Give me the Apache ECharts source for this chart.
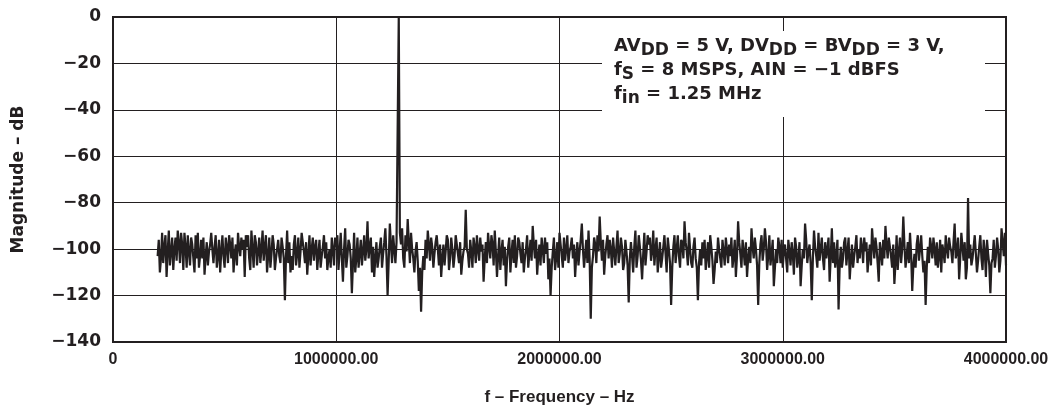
<!DOCTYPE html>
<html>
<head>
<meta charset="utf-8">
<script src="https://cdn.jsdelivr.net/npm/echarts@6/dist/echarts.min.js"></script>
<style>
  html, body { margin: 0; padding: 0; background: #fff; }
  #chart { width: 1062px; height: 415px; }
</style>
</head>
<body>
<div id="chart"></div>
<script>
// FFT bins: first bin and bin spacing (Hz)
var binStart = 200000;
var binStep = 5000;

// magnitude per bin, dB (5 kHz steps from 0.2 MHz to 4 MHz, 200 kHz per row)
var magA = [-103,-96,-110,-104,-93,-106,-99,-94,-112,-101,-92,-107,-101,-95,-109,-100,-95,-105,-92,-97,-106,-93,-98,-109,-93,-99,-108,-94,-101,-107,-95,-98,-104,-110,-94,-104,-93,-108,-103,-96];
var magB = [-104,-95,-111,-103,-97,-107,-101,-98,-93,-100,-106,-99,-94,-108,-103,-96,-110,-101,-94,-103,-108,-95,-99,-106,-94,-98,-104,-95,-110,-102,-98,-107,-93,-99,-103,-95,-100,-96,-112,-94];
var magC = [-99,-94,-104,-109,-92,-100,-108,-94,-97,-107,-101,-95,-106,-100,-92,-105,-99,-94,-110,-103,-95,-108,-102,-94,-98,-109,-104,-100,-96,-103,-106,-95,-99,-104,-122,-103,-92,-106,-97,-110];
var magD = [-103,-109,-98,-94,-107,-102,-95,-108,-101,-93,-97,-101,-106,-97,-111,-103,-94,-107,-100,-95,-105,-99,-96,-109,-102,-96,-108,-103,-99,-94,-104,-97,-109,-104,-100,-108,-95,-100,-107,-95];
var magE = [-99,-94,-109,-101,-93,-104,-114,-100,-91,-108,-103,-96,-98,-104,-119,-106,-93,-110,-104,-95,-108,-102,-96,-107,-101,-94,-105,-100,-88,-104,-99,-95,-110,-99,-112,-104,-97,-108,-104,-99];
var magF = [-95,-108,-102,-97,-91,-103,-120,-105,-89,-98,-106,-94,-100,-106,-97,-97,0,-93,-98,-91,-104,-108,-94,-101,-87,-97,-106,-93,-100,-104,-110,-101,-97,-105,-118,-108,-127,-110,-103,-109];
var magG = [-96,-104,-92,-98,-105,-95,-99,-108,-102,-97,-94,-100,-107,-98,-112,-104,-98,-107,-101,-94,-96,-109,-104,-95,-100,-108,-103,-94,-98,-102,-106,-97,-111,-105,-101,-99,-83,-100,-102,-108];
var magH = [-96,-101,-108,-95,-99,-106,-94,-100,-105,-95,-101,-98,-114,-104,-97,-106,-93,-99,-104,-94,-98,-107,-92,-101,-112,-103,-95,-109,-101,-96,-107,-99,-116,-105,-99,-95,-110,-102,-96,-106];
var magI = [-94,-108,-103,-95,-97,-102,-106,-97,-110,-104,-100,-94,-108,-102,-96,-105,-90,-98,-104,-96,-111,-103,-98,-107,-95,-100,-106,-95,-102,-97,-113,-104,-120,-108,-101,-95,-109,-104,-97,-108];
var magJ = [-93,-98,-103,-108,-95,-105,-100,-94,-106,-101,-99,-95,-104,-98,-112,-103,-97,-107,-101,-96,-89,-100,-108,-102,-96,-106,-92,-104,-130,-108,-103,-95,-98,-106,-94,-101,-86,-97,-105,-96];
var magK = [-111,-103,-98,-94,-104,-96,-100,-108,-95,-101,-107,-99,-92,-106,-102,-95,-99,-109,-106,-96,-101,-107,-123,-104,-97,-103,-110,-99,-92,-108,-103,-94,-99,-105,-113,-102,-93,-107,-101,-94];
var magL = [-98,-95,-105,-101,-92,-107,-100,-95,-110,-103,-97,-108,-104,-99,-94,-102,-110,-95,-100,-106,-124,-108,-99,-94,-106,-100,-94,-103,-108,-96,-97,-104,-88,-97,-101,-107,-93,-100,-106,-108];
var magM = [-99,-95,-104,-108,-122,-106,-100,-107,-97,-104,-96,-109,-103,-97,-108,-94,-99,-105,-115,-109,-101,-106,-95,-100,-104,-108,-96,-101,-107,-95,-100,-106,-98,-103,-95,-108,-103,-96,-112,-103];
var magN = [-88,-97,-102,-108,-96,-101,-107,-97,-112,-104,-99,-106,-91,-99,-104,-95,-100,-107,-124,-106,-98,-94,-105,-100,-91,-97,-109,-103,-94,-107,-102,-96,-116,-108,-100,-106,-95,-99,-106,-96];
var magO = [-108,-101,-98,-104,-110,-96,-101,-107,-97,-102,-111,-95,-99,-108,-104,-97,-116,-107,-100,-104,-89,-96,-106,-101,-98,-106,-122,-104,-92,-99,-103,-108,-93,-105,-100,-95,-104,-109,-97,-104];
var magP = [-100,-95,-114,-103,-91,-106,-97,-108,-103,-96,-126,-107,-99,-108,-104,-97,-95,-107,-101,-95,-113,-105,-98,-108,-103,-99,-94,-106,-100,-104,-95,-99,-106,-95,-101,-97,-110,-103,-98,-107];
var magQ = [-91,-98,-104,-95,-99,-106,-114,-97,-101,-107,-96,-104,-90,-98,-104,-95,-99,-103,-108,-98,-115,-106,-94,-109,-101,-95,-106,-100,-86,-98,-108,-103,-97,-106,-93,-102,-118,-107,-102,-108];
var magR = [-98,-94,-105,-100,-94,-103,-110,-105,-124,-108,-99,-106,-95,-99,-104,-95,-100,-107,-97,-108,-103,-96,-110,-98,-101,-106,-94,-100,-104,-95,-99,-101,-106,-97,-89,-104,-101,-95,-113,-104];
var magS = [-93,-99,-105,-97,-113,-108,-78,-104,-98,-107,-104,-99,-94,-102,-110,-105,-99,-94,-104,-109,-96,-101,-112,-96,-102,-107,-119,-106,-104,-96,-108,-103,-95,-100,-110,-105,-91,-97,-103,-93];
var magEnd = [-107];

var yTicks = [0, -20, -40, -60, -80, -100, -120, -140];
var xTicks = [0, 1000000, 2000000, 3000000, 4000000];

var noteLines = [
    '{n|AV}{s|DD}{n| = 5 V, DV}{s|DD}{n| = BV}{s|DD}{n| = 3 V,}',
    '{n|f}{s|S}{n| = 8 MSPS, AIN = \u22121 dBFS}',
    '{n|f}{s|in}{n| = 1.25 MHz}'
];

var mags = [].concat(magA, magB, magC, magD, magE, magF, magG, magH, magI, magJ,
    magK, magL, magM, magN, magO, magP, magQ, magR, magS, magEnd);
var points = [];
for (var i = 0; i < mags.length; i++) {
    points.push([binStart + i * binStep, mags[i]]);
}

var ink = '#231f20';
var sans = 'Liberation Sans';
var wide = 'DejaVu Sans';
var chart = echarts.init(document.getElementById('chart'));
chart.setOption({
    backgroundColor: '#fff',
    animation: false,
    grid: {
        left: 113, right: 56, top: 17, bottom: 73,
        show: true, borderColor: ink, borderWidth: 2, backgroundColor: 'transparent'
    },
    xAxis: {
        type: 'value',
        min: xTicks[0], max: xTicks[xTicks.length - 1], interval: 1000000,
        name: 'f \u2013 Frequency \u2013 Hz',
        nameLocation: 'middle', nameGap: 47,
        nameTextStyle: { fontFamily: sans, fontWeight: 'bold', fontSize: 17, color: ink },
        axisLine: { show: false },
        axisTick: { show: false },
        splitLine: { show: true, lineStyle: { color: ink, width: 1 } },
        axisLabel: {
            margin: 10,
            fontFamily: sans, fontWeight: 'bold', fontSize: 16, color: ink,
            formatter: function (v) { return v === 0 ? '0' : v.toFixed(2); }
        }
    },
    yAxis: {
        type: 'value',
        min: yTicks[yTicks.length - 1], max: yTicks[0], interval: 20,
        name: 'Magnitude \u2013 dB',
        nameLocation: 'middle', nameGap: 86,
        nameTextStyle: { fontFamily: wide, fontWeight: 'bold', fontSize: 17, color: ink },
        axisLine: { show: false },
        axisTick: { show: false },
        splitLine: { show: true, lineStyle: { color: ink, width: 1 } },
        axisLabel: {
            margin: 12,
            fontFamily: wide, fontWeight: 'bold', fontSize: 17, color: ink,
            formatter: function (v) { return v < 0 ? '\u2212' + Math.abs(v) : String(v); }
        }
    },
    series: [{
        type: 'line',
        data: points,
        showSymbol: false,
        symbol: 'none',
        lineStyle: { color: ink, width: 2.2 },
        z: 3
    }],
    graphic: [{
        type: 'rect',
        left: 602, top: 31,
        shape: { width: 383, height: 86 },
        style: { fill: '#fff' },
        z: 50
    }, {
        type: 'text',
        left: 614, top: 37,
        style: {
            text: noteLines.join('\n'),
            fill: ink,
            rich: {
                n: { fontFamily: wide, fontWeight: 'bold', fontSize: 18, lineHeight: 24, verticalAlign: 'top', fill: ink },
                s: { fontFamily: wide, fontWeight: 'bold', fontSize: 17, lineHeight: 24, padding: [5, 0, 0, 0], verticalAlign: 'top', fill: ink }
            }
        },
        z: 51
    }]
});
</script>
</body>
</html>
